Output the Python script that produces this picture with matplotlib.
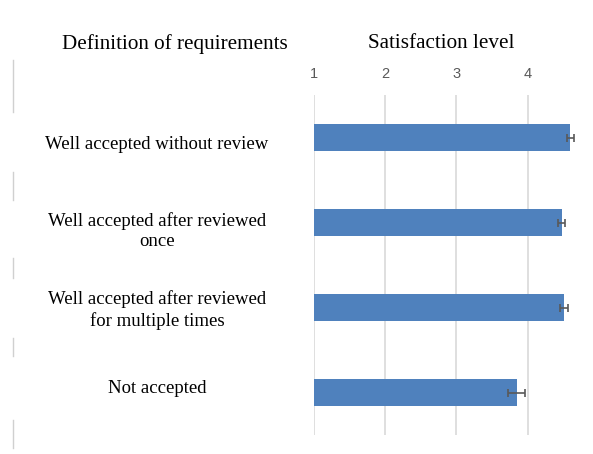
import numpy as np
import matplotlib.pyplot as plt
from matplotlib.lines import Line2D
from matplotlib.transforms import blended_transform_factory

categories = ['Well accepted without review',
              'Well accepted after reviewed\nonce',
              'Well accepted after reviewed\nfor multiple times',
              'Not accepted']
scores = [4.60, 4.48, 4.51, 3.85]
errors = [0.05, 0.05, 0.06, 0.12]
ticks = [1, 2, 3, 4]

W, H = 593, 454
fig = plt.figure(figsize=(W / 100, H / 100), dpi=100)
# axes box in pixels: left 314, right 581, top 95, bottom 435
ax = fig.add_axes([314 / W, 1 - 435 / H, (581 - 314) / W, (435 - 95) / H])

y = np.arange(len(categories))
ax.barh(y, [s - 1 for s in scores], left=1, height=0.31, color='#4f81bd',
        xerr=errors, error_kw=dict(ecolor='#595959', elinewidth=1.2, capsize=3, capthick=1.2),
        zorder=3)
ax.set_xlim(1, 4.75)
ax.set_ylim(3.5, -0.5)
ax.set_xticks(ticks)
ax.xaxis.tick_top()
ax.tick_params(axis='x', length=0, pad=10, labelsize=10.5, labelcolor='#595959')
for lbl in ax.get_xticklabels():
    lbl.set_family('Liberation Sans')
ax.set_yticks([])
ax.grid(axis='x', color='#d9d9d9', linewidth=1.2, zorder=0)
for sp in ax.spines.values():
    sp.set_visible(False)

trans = blended_transform_factory(fig.transFigure, ax.transData)
offsets = [0.08, 0.1, 0.03, -0.05]
for yi, (cat, off) in enumerate(zip(categories, offsets)):
    fig.text(157 / W, yi + off, cat, transform=trans, ha='center', va='center',
             family='Liberation Serif', fontsize=13.5, linespacing=1.25)

fig.text(175 / W, 1 - 44 / H, 'Definition of requirements', ha='center', va='center',
         family='Liberation Serif', fontsize=15.2)
fig.text(441 / W, 1 - 44 / H, 'Satisfaction level', ha='center', va='center',
         family='Liberation Serif', fontsize=15.2)

# faint leftover border segments on the left edge
for y0, y1 in [(60, 112), (172, 200), (258, 278), (338, 356), (420, 448)]:
    fig.add_artist(Line2D([13 / W, 13 / W], [1 - y0 / H, 1 - y1 / H],
                          color='#d0d0d0', linewidth=1))

fig.savefig('out.png', dpi=100)
